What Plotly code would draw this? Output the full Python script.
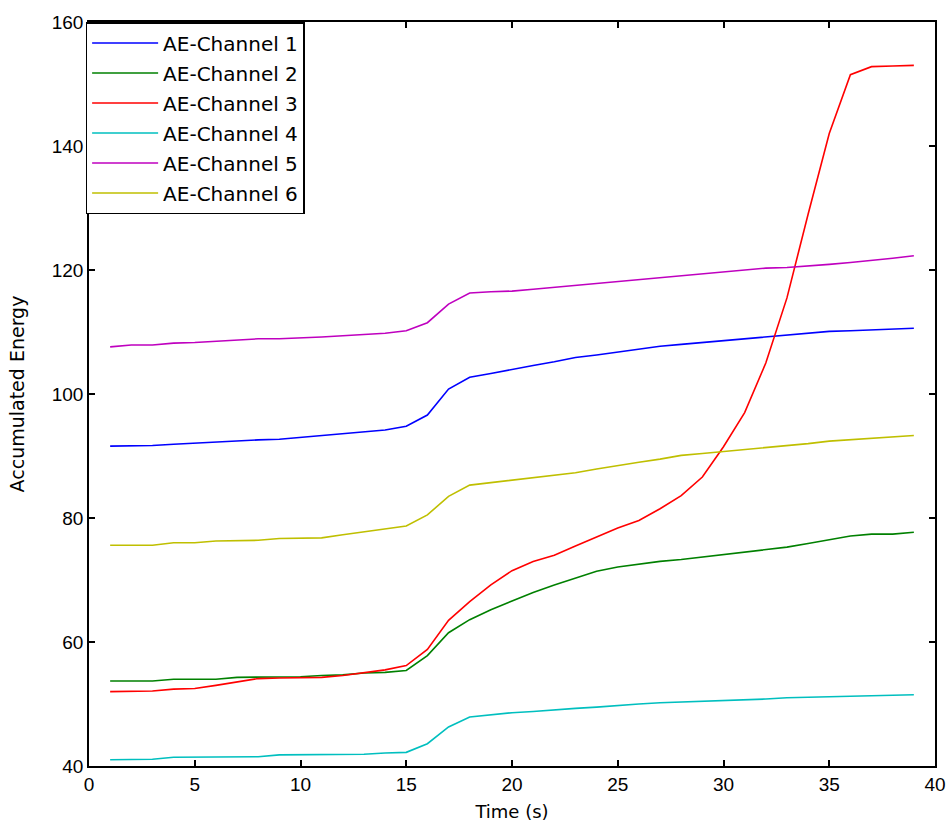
import plotly.graph_objects as go

# Time stamps (s)
time_s = list(range(1, 40))

# Accumulated energy per acoustic-emission channel
ae_ch1 = [91.6, 91.6, 91.7, 91.9, 92.1, 92.3, 92.5, 92.6, 92.7, 93.0,
          93.2, 93.6, 93.9, 94.2, 94.8, 96.6, 100.8, 102.7, 103.3, 104.0,
          104.6, 105.2, 105.9, 106.3, 106.8, 107.3, 107.7, 108.0, 108.3, 108.6,
          108.8, 109.1, 109.4, 109.8, 110.1, 110.2, 110.3, 110.4, 110.6]
ae_ch2 = [53.7, 53.7, 53.7, 54.0, 54.0, 54.0, 54.3, 54.3, 54.3, 54.4,
          54.6, 54.7, 55.0, 55.1, 55.4, 57.8, 61.5, 63.6, 65.2, 66.6,
          68.0, 69.2, 70.3, 71.4, 72.1, 72.6, 73.0, 73.3, 73.7, 74.1,
          74.5, 74.9, 75.3, 75.9, 76.5, 77.1, 77.4, 77.4, 77.7]
ae_ch3 = [52.0, 52.0, 52.1, 52.4, 52.5, 53.0, 53.6, 54.1, 54.2, 54.2,
          54.3, 54.6, 55.0, 55.5, 56.2, 58.8, 63.5, 66.5, 69.2, 71.5,
          73.0, 74.0, 75.5, 77.0, 78.4, 79.6, 81.5, 83.6, 86.6, 91.5,
          97.0, 105.0, 115.5, 129.0, 142.0, 151.5, 152.8, 152.9, 153.0]
ae_ch4 = [41.0, 41.0, 41.1, 41.4, 41.4, 41.4, 41.4, 41.5, 41.8, 41.8,
          41.8, 41.8, 41.9, 42.1, 42.2, 43.6, 46.3, 47.9, 48.3, 48.6,
          48.8, 49.1, 49.3, 49.5, 49.8, 50.0, 50.2, 50.3, 50.4, 50.5,
          50.7, 50.8, 51.0, 51.1, 51.1, 51.2, 51.3, 51.4, 51.5]
ae_ch5 = [107.6, 107.9, 107.9, 108.2, 108.3, 108.5, 108.6, 108.9, 108.9, 109.0,
          109.2, 109.4, 109.6, 109.8, 110.2, 111.5, 114.5, 116.3, 116.5, 116.6,
          116.9, 117.2, 117.5, 117.8, 118.1, 118.4, 118.7, 119.1, 119.4, 119.7,
          120.0, 120.3, 120.4, 120.6, 120.9, 121.2, 121.5, 121.9, 122.3]
ae_ch6 = [75.6, 75.6, 75.6, 76.0, 76.0, 76.3, 76.3, 76.4, 76.7, 76.7,
          76.8, 77.3, 77.8, 78.3, 78.7, 80.5, 83.5, 85.3, 85.7, 86.1,
          86.6, 86.9, 87.3, 87.9, 88.5, 89.0, 89.5, 90.1, 90.4, 90.7,
          91.0, 91.3, 91.6, 92.0, 92.4, 92.6, 92.8, 93.0, 93.3]

series_names = ["AE-Channel 1", "AE-Channel 2", "AE-Channel 3",
                "AE-Channel 4", "AE-Channel 5", "AE-Channel 6"]
series_values = [ae_ch1, ae_ch2, ae_ch3, ae_ch4, ae_ch5, ae_ch6]
series_colors = ["#0000ff", "#008000", "#ff0000", "#00bfbf", "#bf00bf", "#bfbf00"]

x_ticks = [0, 5, 10, 15, 20, 25, 30, 35, 40]
y_ticks = [40, 60, 80, 100, 120, 140, 160]

TICK_FONT = "Liberation Sans, Arial, sans-serif"
TEXT_FONT = "DejaVu Sans, Liberation Sans, sans-serif"

fig = go.Figure()
for name, vals, col in zip(series_names, series_values, series_colors):
    fig.add_trace(go.Scatter(
        x=time_s, y=vals, mode="lines", name=name,
        legendgroup=name,
        line=dict(color=col, width=1.6),
    ))

axis_common = dict(
    showgrid=False, zeroline=False,
    showline=True, linecolor="black", linewidth=1.5, mirror="ticks",
    ticks="inside", ticklen=6, tickwidth=1.5, tickcolor="black",
    tickfont=dict(family=TICK_FONT, size=19, color="black"),
    automargin=False,
)

fig.update_layout(
    width=951, height=825,
    margin=dict(l=89, r=16, t=22, b=59),
    paper_bgcolor="white", plot_bgcolor="white",
    font=dict(family=TEXT_FONT, color="black"),
    xaxis=dict(range=[0, 40], tickvals=x_ticks,
               title=dict(text="Time (s)", font=dict(family=TEXT_FONT, size=18), standoff=12),
               **axis_common),
    yaxis=dict(range=[40, 160], tickvals=y_ticks,
               title=dict(text="Accumulated Energy", font=dict(family=TEXT_FONT, size=19), standoff=22),
               **axis_common),
    legend=dict(
        x=-0.004, y=1, xanchor="left", yanchor="top",
        bgcolor="white", bordercolor="black", borderwidth=1.5,
        font=dict(family=TEXT_FONT, size=20, color="black"),
        itemwidth=66, traceorder="grouped", tracegroupgap=1,
    ),
    showlegend=True,
)

fig.write_html("out.html")
